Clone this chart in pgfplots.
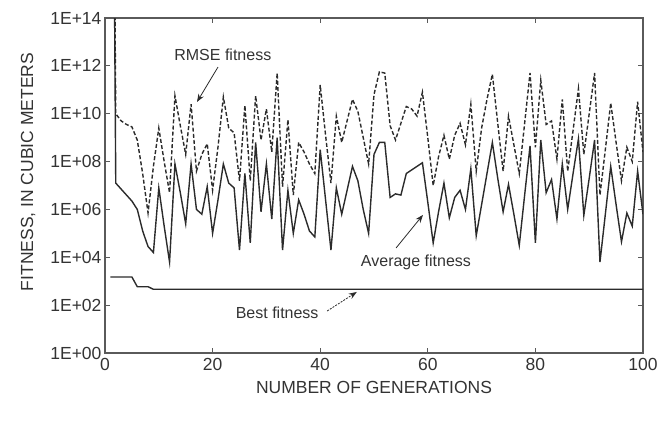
\documentclass[border=0pt]{standalone}
\usepackage{fontspec}
\setmainfont{Liberation Sans}
\usepackage{pgfplots}
\pgfplotsset{compat=1.18}
\usetikzlibrary{arrows.meta}
\definecolor{ln}{HTML}{2B2B2B}
\definecolor{axc}{HTML}{5A5A5A}
\begin{document}
\begin{tikzpicture}
\path[use as bounding box] (-105pt,-68pt) rectangle (553pt,353pt);
\begin{axis}[
  scale only axis, width=538pt, height=335pt,
  ymode=log, xmin=0, xmax=100, ymin=1, ymax=1e14,
  axis line style={axc, line width=1.2pt},
  tick style={axc, line width=1pt}, major tick length=5pt,
  xtick={0,20,40,60,80,100}, xticklabels={0,20,40,60,80,100},
  ytick={1,1e2,1e4,1e6,1e8,1e10,1e12,1e14},
  yticklabels={1E+00,1E+02,1E+04,1E+06,1E+08,1E+10,1E+12,1E+14},
  minor ytick={}, yminorticks=false,
  ticklabel style={font=\fontsize{17.5}{20}\selectfont, text=black!80},
  xticklabel style={yshift=-2pt},
  xlabel={NUMBER OF GENERATIONS}, ylabel={FITNESS, IN CUBIC METERS},
  label style={font=\fontsize{17.5}{20}\selectfont, text=black!80},
  xlabel style={at={(axis description cs:0.5,-0.103)}, anchor=center},
  ylabel style={at={(axis description cs:-0.143,0.54)}, anchor=center},
  clip=true,
]
% RMSE fitness (dashed)
\addplot[ln, line width=1.4pt, dash pattern=on 4pt off 2.2pt] coordinates {
(1,1e40)(2,1e10)(3,5.01e9)(4,3.55e9)(5,2.82e9)(6,7.94e8)(7,3.16e7)(8,7.08e5)(9,6.31e7)(10,2.51e9)
(11,1e8)(12,5.01e6)(13,5.62e10)(14,3.16e9)(15,2e8)(16,2.51e10)(17,3.98e7)(18,2e8)(19,5.62e8)(20,6.31e6)
(21,3.98e8)(22,5.01e10)(23,2.51e9)(24,1.58e9)(25,1.58e7)(26,2.24e10)(27,1.58e7)(28,5.62e10)(29,7.94e8)(30,1.58e10)
(31,2.51e8)(32,5.01e11)(33,8.91e6)(34,5.62e9)(35,3.98e6)(36,6.31e8)(37,2.51e8)(38,7.94e7)(39,3.16e7)(40,1.58e11)
(41,1.26e9)(42,1.26e7)(43,7.94e9)(44,6.31e8)(45,5.01e9)(46,3.98e10)(47,1.26e10)(48,1e9)(49,7.94e7)(50,6.31e10)
(51,5.62e11)(52,5.01e11)(53,3.16e9)(54,7.94e8)(55,3.98e9)(56,2e10)(57,1.58e10)(58,7.94e9)(59,7.94e10)(60,1e9)
(61,1e7)(62,1.58e8)(63,1.26e9)(64,1.26e8)(65,1.26e9)(66,3.98e9)(67,5.01e8)(68,2.51e10)(69,3.98e7)(70,2.51e9)
(71,3.98e10)(72,4.47e11)(73,3.98e9)(74,3.98e7)(75,7.94e9)(76,5.01e8)(77,3.16e7)(78,3.98e9)(79,5.01e11)(80,3.98e8)
(81,2.51e11)(82,3.55e9)(83,5.01e9)(84,1.26e8)(85,3.98e10)(86,3.98e7)(87,2e9)(88,1.12e11)(89,2e8)(90,1e10)
(91,5.01e11)(92,3.98e6)(93,3.16e8)(94,2.82e10)(95,6.31e8)(96,1.58e7)(97,3.98e8)(98,1e8)(99,3.16e10)(100,2.51e8)
};
% Average fitness (solid)
\addplot[ln, line width=1.4pt] coordinates {
(1,1e40)(2,1.26e7)(3,7.08e6)(4,3.98e6)(5,2.24e6)(6,1e6)(7,1.26e5)(8,2.82e4)(9,1.58e4)(10,7.94e6)
(11,2e5)(12,6.31e3)(13,7.94e7)(14,5.01e6)(15,2.51e5)(16,7.94e7)(17,1e6)(18,6.31e5)(19,8.91e6)(20,1e5)
(21,2.51e6)(22,7.94e7)(23,1.26e7)(24,7.94e6)(25,2e4)(26,3.16e7)(27,3.98e4)(28,6.31e8)(29,7.94e5)(30,7.94e7)
(31,3.98e5)(32,1e9)(33,2e4)(34,6.31e6)(35,1e5)(36,2.51e6)(37,6.31e5)(38,1.26e5)(39,7.08e4)(40,3.16e8)
(41,2.51e6)(42,2e4)(43,7.94e6)(44,6.31e5)(45,6.31e6)(46,6.31e7)(47,1.58e7)(48,1e6)(49,1e5)(50,2e8)
(51,6.31e8)(52,6.31e8)(53,3.16e6)(54,4.47e6)(55,3.98e6)(56,3.16e7)(57,4.47e7)(58,6.31e7)(59,8.91e7)(60,2e6)
(61,3.98e4)(62,7.94e5)(63,1.26e7)(64,4.47e5)(65,3.16e6)(66,6.31e6)(67,1e6)(68,5.01e7)(69,7.94e4)(70,1.58e6)
(71,3.16e7)(72,6.31e8)(73,2e7)(74,7.94e5)(75,1.12e7)(76,6.31e5)(77,3.16e4)(78,3.98e6)(79,4.47e8)(80,3.98e4)
(81,7.94e8)(82,5.01e6)(83,1.78e7)(84,3.98e5)(85,7.94e7)(86,1e6)(87,3.16e7)(88,8.91e8)(89,5.62e5)(90,2e7)
(91,7.94e8)(92,6.31e3)(93,6.31e5)(94,6.31e7)(95,1.58e6)(96,4.47e4)(97,7.08e5)(98,2e5)(99,3.98e7)(100,6.31e5)
};
% Best fitness
\addplot[ln, line width=1.4pt] coordinates {
(1,1.5e3)(5,1.5e3)(6,5.9e2)(8,5.9e2)(9,4.6e2)(100,4.6e2)
};
\node[font=\fontsize{16}{19}\selectfont, text=black!80] at (axis cs:21.9,2.8e12) {RMSE fitness};
\draw[ln, line width=0.8pt, -{Stealth[length=8pt,width=6pt]}] (axis cs:21.0,8.9e11) -- (axis cs:17.1,3.1e10);
\node[font=\fontsize{16}{19}\selectfont, text=black!80] at (axis cs:57.8,6.3e3) {Average fitness};
\draw[ln, line width=0.8pt, -{Stealth[length=8pt,width=6pt]}] (axis cs:54.1,2.45e4) -- (axis cs:59.1,5.9e5);
\node[font=\fontsize{16}{19}\selectfont, text=black!80] at (axis cs:32.0,47) {Best fitness};
\draw[ln, line width=0.8pt, dash pattern=on 2pt off 1.2pt, -{Stealth[length=8pt,width=6pt]}] (axis cs:41.3,57) -- (axis cs:46.8,355);
\end{axis}
\end{tikzpicture}
\end{document}
